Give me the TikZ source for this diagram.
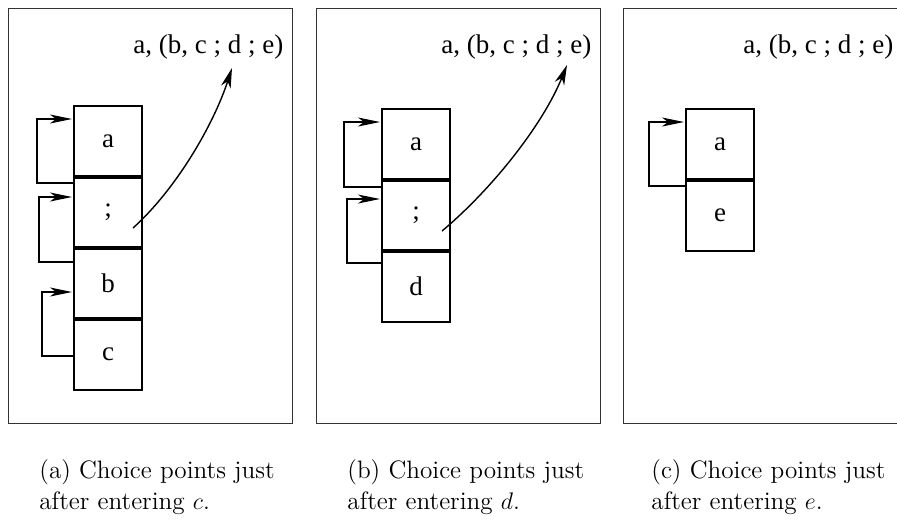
\documentclass[tikz,border=0pt]{standalone}
\usepackage{fontspec}
\newfontfamily\goalfont{Liberation Serif}
\usetikzlibrary{arrows.meta, positioning, calc}
\tikzset{
  panel/.style={rectangle,draw=black!80,line width=0.6pt,anchor=north west,minimum width=142pt,minimum height=207.5pt,inner sep=0pt},
  cell/.style={rectangle,draw,line width=0.7pt,minimum width=34pt,minimum height=35.5pt,inner sep=0pt,outer sep=0pt,font=\goalfont\fontsize{13.5}{16}\selectfont},
  goal/.style={anchor=base west,inner sep=0pt,font=\goalfont\fontsize{13.5}{16}\selectfont},
  divider/.style={line width=1.7pt},
  redo/.style={-{Stealth[length=11pt,width=4.5pt,inset=3pt]},line width=0.7pt},
  jump/.style={-{Stealth[length=10pt,width=5pt,inset=3pt]},line width=0.7pt,looseness=0.8},
  subcap/.style={anchor=north west,align=left,inner sep=0pt,font=\fontsize{12.6}{15.5}\selectfont}
}
\begin{document}
\begin{tikzpicture}[x=1pt,y=1pt]
  \useasboundingbox (0,0) rectangle (448.5,-260.5);
  \clip (0,0) rectangle (448.5,-260.5);

  % (a) after entering c
  \node[panel] (Aframe) at (4,-4) {};
  \node[cell,anchor=north west] (Aa) at ([shift={(33pt,-49pt)}]Aframe.north west) {a};
  \node[cell,below=0pt of Aa]  (Asc) {;};
  \node[cell,below=0pt of Asc] (Ab)  {b};
  \node[cell,below=0pt of Ab]  (Ac)  {c};
  \foreach \n in {Aa,Asc,Ab}
    \draw[divider] (\n.south west) -- (\n.south east);
  \node[goal] (Agoal) at ([shift={(29.5pt,26.5pt)}]Aa.north west) {a, (b, c ; d ; e)};
  \coordinate (Ad) at ([shift={(49.5pt,-7.5pt)}]Agoal.base west);
  \draw[jump] ([shift={(29.5pt,-25.5pt)}]Asc.north west) to[out=42,in=-108] (Ad);
  \draw[redo] ([yshift=-3pt]Asc.north west) -- ++(-18.5pt,0) |- ([shift={(-1pt,-6.5pt)}]Aa.north west);
  \draw[redo] ([yshift=-7pt]Ab.north west) -- ++(-17.5pt,0) |- ([shift={(-1pt,-10pt)}]Asc.north west);
  \draw[redo] ([yshift=-18.5pt]Ac.north west) -- ++(-16pt,0) |- ([shift={(-1pt,-22pt)}]Ab.north west);
  \node[subcap] (Acap) at ($(Aa.west |- Aframe.south)+(-17.5pt,-17.6pt)$)
    {(a) Choice points just\\after entering $c$.};

  % (b) after entering d
  \node[panel] (Bframe) at (158,-4) {};
  \node[cell,anchor=north west] (Ba) at ([shift={(33pt,-50.5pt)}]Bframe.north west) {a};
  \node[cell,below=0pt of Ba]  (Bsc) {;};
  \node[cell,below=0pt of Bsc] (Bd)  {d};
  \foreach \n in {Ba,Bsc}
    \draw[divider] (\n.south west) -- (\n.south east);
  \node[goal] (Bgoal) at ([shift={(29.5pt,28pt)}]Ba.north west) {a, (b, c ; d ; e)};
  \coordinate (Be) at ([shift={(63pt,-6pt)}]Bgoal.base west);
  \draw[jump] ([shift={(30pt,-25.5pt)}]Bsc.north west) to[out=40,in=-112] (Be);
  \draw[redo] ([yshift=-3.5pt]Bsc.north west) -- ++(-19pt,0) |- ([shift={(-1pt,-6.5pt)}]Ba.north west);
  \draw[redo] ([yshift=-6pt]Bd.north west) -- ++(-17.5pt,0) |- ([shift={(-1pt,-9.5pt)}]Bsc.north west);
  \node[subcap] (Bcap) at ($(Ba.west |- Bframe.south)+(-17.5pt,-17.6pt)$)
    {(b) Choice points just\\after entering $d$.};

  % (c) after entering e
  \node[panel] (Cframe) at (311.5,-4) {};
  \node[cell,anchor=north west] (Ca) at ([shift={(31.5pt,-50.5pt)}]Cframe.north west) {a};
  \node[cell,below=0pt of Ca] (Ce) {e};
  \draw[divider] (Ca.south west) -- (Ca.south east);
  \node[goal] (Cgoal) at ([shift={(28.5pt,28pt)}]Ca.north west) {a, (b, c ; d ; e)};
  \draw[redo] ([yshift=-3pt]Ce.north west) -- ++(-18.5pt,0) |- ([shift={(-1pt,-6.5pt)}]Ca.north west);
  \node[subcap] (Ccap) at ($(Ca.west |- Cframe.south)+(-17.5pt,-17.6pt)$)
    {(c) Choice points just\\after entering $e$.};
\end{tikzpicture}
\end{document}
